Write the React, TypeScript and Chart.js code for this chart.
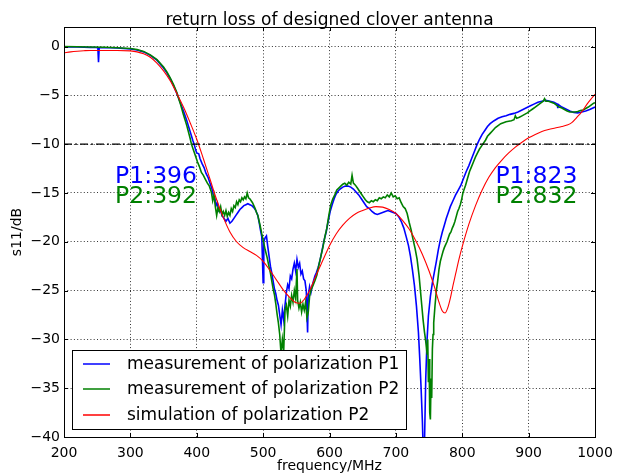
import React, { useEffect, useRef } from 'react';
import { Chart, registerables } from 'chart.js';

Chart.register(...registerables);

const TITLE = 'return loss of designed clover antenna';
const X_LABEL = 'frequency/MHz';
const Y_LABEL = 's11/dB';
const X_TICKS = [200, 300, 400, 500, 600, 700, 800, 900, 1000];
const Y_TICKS = [0, -5, -10, -15, -20, -25, -30, -35, -40];
const X_MIN = 200;
const X_MAX = 1000;
const Y_MIN = -40;
const Y_MAX = 2;
const REF_LEVEL = -10;

const SERIES_LABELS = [
  'measurement of polarization P1',
  'measurement of polarization P2',
  'simulation of polarization P2',
];
const SERIES_COLORS = ['#0000ff', '#008000', '#ff0000'];

// [frequency MHz, s11 dB]
const P1_MEASURED: [number, number][] = [
  [200, -0.05], [210, -0.05], [220, -0.05], [230, -0.08], [240, -0.1], [248, -0.1], [251, -0.12], [252, -1.6], [253, -0.12],
  [260, -0.12], [270, -0.12], [280, -0.15], [290, -0.2], [300, -0.25], [310, -0.35], [320, -0.55], [330, -0.9], [340, -1.4],
  [350, -2.2], [355, -2.7], [360, -3.3], [365, -4.0], [370, -4.8], [375, -5.7], [380, -6.6], [385, -7.6], [390, -8.7],
  [394, -9.6], [396, -10.0], [398, -10.5], [400, -10.9], [403, -11.0], [405, -11.5], [408, -12.0], [411, -12.4], [414, -13.0],
  [417, -13.4], [420, -14.0], [423, -14.6], [425, -15.3], [427, -15.4], [429, -16.3], [431, -16.0], [433, -16.8], [435, -16.6],
  [438, -17.3], [441, -17.6], [444, -17.9], [447, -17.6], [450, -18.1], [453, -17.9], [456, -17.6], [459, -17.3], [462, -17.0],
  [465, -16.7], [468, -16.5], [471, -16.3], [474, -16.2], [477, -16.1], [480, -16.2], [483, -16.3], [486, -16.5], [489, -16.8],
  [492, -17.3], [494, -18.0], [496, -18.8], [498, -19.5], [500, -24.2], [501, -20.0], [503, -19.6], [505, -19.4], [507, -20.5],
  [509, -21.5], [511, -22.5], [513, -23.2], [515, -24.0], [517, -24.8], [519, -25.3], [521, -26.0], [523, -26.5], [525, -27.5],
  [527, -28.5], [529, -27.0], [531, -28.0], [533, -26.5], [535, -25.2], [537, -24.4], [539, -24.8], [541, -23.5], [543, -23.8],
  [545, -22.8], [547, -22.2], [549, -23.0], [551, -21.8], [553, -22.6], [555, -22.2], [557, -23.3], [559, -23.0], [561, -23.8],
  [563, -24.0], [565, -25.0], [567, -29.3], [568, -25.5], [570, -24.6], [572, -25.2], [574, -24.5], [576, -24.0], [578, -23.5],
  [580, -23.2], [583, -22.6], [586, -21.8], [589, -20.8], [592, -19.8], [595, -19.0], [598, -17.9], [601, -16.9], [604, -16.2],
  [607, -15.6], [610, -15.1], [613, -14.8], [616, -14.6], [620, -14.4], [624, -14.3], [628, -14.3], [632, -14.4], [636, -14.6],
  [640, -14.9], [644, -15.2], [648, -15.6], [652, -16.0], [656, -16.4], [660, -16.6], [664, -16.9], [668, -17.1], [672, -17.2],
  [676, -17.1], [680, -17.0], [684, -16.9], [688, -16.8], [692, -16.9], [696, -17.0], [700, -17.1], [704, -17.4], [708, -17.9],
  [712, -18.6], [716, -19.6], [719, -20.4], [722, -21.5], [725, -22.9], [728, -24.5], [731, -26.6], [734, -29.3], [736, -32.0],
  [738, -35.0], [740, -38.5], [741, -41.0], [743, -41.0], [745, -34.0], [747, -30.0], [749, -27.6], [752, -25.6], [755, -24.2],
  [758, -23.1], [761, -22.0], [764, -20.8], [767, -19.8], [770, -19.0], [773, -18.3], [776, -17.6], [779, -17.0], [782, -16.4],
  [786, -15.8], [790, -15.2], [794, -14.7], [798, -14.2], [802, -13.5], [806, -12.8], [810, -12.2], [814, -11.5], [818, -10.8],
  [822, -10.1], [826, -9.5], [830, -9.0], [834, -8.6], [838, -8.2], [842, -7.9], [848, -7.6], [854, -7.35], [860, -7.2],
  [866, -7.1], [872, -6.95], [878, -6.85], [884, -6.7], [890, -6.5], [896, -6.3], [902, -6.1], [908, -5.9], [914, -5.7],
  [920, -5.6], [926, -5.5], [932, -5.6], [938, -5.7], [943, -5.9], [944, -6.3], [945, -5.95], [950, -6.2], [956, -6.4],
  [962, -6.6], [968, -6.75], [974, -6.8], [980, -6.7], [986, -6.6], [992, -6.45], [1000, -6.2],
];

const P2_MEASURED: [number, number][] = [
  [200, 0.0], [220, -0.02], [240, -0.05], [260, -0.08], [280, -0.12], [300, -0.2], [310, -0.3], [320, -0.5], [330, -0.85],
  [340, -1.35], [350, -2.1], [355, -2.6], [360, -3.2], [365, -3.9], [370, -4.7], [375, -5.8], [380, -7.0], [385, -8.1],
  [390, -9.4], [392, -10.0], [395, -10.6], [398, -11.2], [401, -11.8], [404, -12.3], [407, -12.9], [410, -13.2], [413, -13.6],
  [416, -14.0], [419, -14.3], [422, -14.9], [424, -15.8], [426, -15.2], [428, -16.4], [430, -17.3], [432, -16.5], [434, -16.9],
  [436, -16.4], [438, -17.2], [440, -16.9], [442, -17.3], [444, -16.8], [446, -17.4], [448, -17.0], [450, -17.3], [452, -16.6],
  [454, -16.9], [456, -16.3], [458, -16.5], [460, -15.9], [462, -16.2], [464, -15.7], [466, -15.9], [468, -15.5], [470, -15.7],
  [472, -15.4], [474, -15.6], [476, -15.0], [478, -15.5], [480, -15.6], [482, -15.8], [484, -16.0], [486, -16.3], [488, -16.6],
  [490, -17.0], [492, -17.3], [494, -17.9], [496, -18.5], [498, -19.2], [500, -19.8], [503, -20.8], [506, -21.6], [509, -22.6],
  [511, -23.2], [513, -24.0], [515, -24.8], [517, -25.4], [519, -26.3], [521, -27.4], [523, -28.3], [525, -29.5], [527, -31.5],
  [529, -30.0], [531, -31.2], [533, -27.0], [535, -26.5], [537, -27.6], [539, -26.0], [541, -26.6], [543, -25.5], [545, -26.2],
  [547, -25.0], [549, -25.8], [551, -22.8], [552, -26.0], [554, -26.8], [556, -26.2], [558, -27.2], [560, -26.4], [562, -27.0],
  [564, -26.2], [566, -27.8], [568, -27.2], [570, -25.6], [572, -25.0], [575, -24.5], [578, -24.0], [581, -23.4], [584, -22.4],
  [587, -21.5], [590, -20.6], [593, -19.5], [596, -18.6], [599, -17.3], [602, -16.2], [605, -15.6], [608, -15.2], [611, -14.7],
  [614, -14.5], [617, -14.3], [620, -14.1], [623, -14.0], [626, -14.2], [629, -13.9], [632, -14.1], [634, -13.2], [636, -14.0],
  [639, -14.2], [642, -14.5], [645, -14.8], [648, -15.1], [651, -15.4], [654, -15.7], [657, -15.9], [660, -16.0], [663, -15.8],
  [666, -15.9], [669, -15.7], [672, -15.8], [675, -15.5], [678, -15.6], [681, -15.4], [684, -15.5], [687, -15.2], [690, -15.4],
  [693, -15.0], [696, -15.4], [699, -15.3], [702, -15.6], [705, -15.5], [708, -16.0], [711, -16.4], [714, -16.6], [717, -17.1],
  [720, -18.0], [723, -18.8], [726, -19.8], [729, -20.7], [732, -21.8], [735, -23.5], [737, -25.0], [739, -26.5], [741, -28.0],
  [743, -29.2], [745, -30.2], [747, -31.5], [748, -30.0], [749, -34.4], [750, -32.0], [751, -37.5], [752, -38.2], [753, -34.0],
  [754, -36.0], [755, -31.0], [756, -29.5], [757, -28.3], [759, -26.5], [761, -25.0], [763, -24.0], [765, -22.8], [767, -22.0],
  [769, -21.5], [771, -21.0], [773, -20.6], [775, -20.3], [777, -20.0], [779, -19.6], [781, -19.2], [783, -19.0], [785, -18.6],
  [787, -18.3], [789, -17.9], [791, -17.4], [793, -16.9], [795, -16.6], [797, -16.2], [799, -15.7], [801, -15.0], [803, -14.6],
  [805, -14.2], [808, -13.5], [811, -12.8], [814, -12.3], [817, -11.8], [820, -11.3], [823, -10.9], [826, -10.5], [829, -10.2],
  [832, -9.9], [835, -9.6], [838, -9.2], [842, -8.9], [846, -8.6], [850, -8.3], [854, -8.1], [858, -7.9], [862, -7.8],
  [866, -7.7], [870, -7.65], [874, -7.6], [878, -7.5], [880, -7.1], [882, -7.35], [886, -7.25], [890, -7.1], [894, -6.95],
  [898, -6.8], [902, -6.6], [906, -6.4], [910, -6.2], [914, -6.0], [918, -5.8], [922, -5.6], [924, -5.35], [926, -5.6],
  [930, -5.6], [934, -5.7], [938, -5.8], [942, -6.0], [946, -6.2], [950, -6.3], [954, -6.45], [958, -6.6], [962, -6.7],
  [966, -6.7], [970, -6.7], [974, -6.65], [978, -6.55], [982, -6.5], [986, -6.35], [990, -6.2], [994, -6.0], [998, -5.8],
  [1000, -5.75],
];

const P2_SIMULATED: [number, number][] = [
  [200, -0.65], [210, -0.55], [220, -0.48], [230, -0.43], [240, -0.4], [260, -0.4], [280, -0.4], [300, -0.45], [310, -0.55],
  [320, -0.75], [330, -1.1], [340, -1.7], [350, -2.5], [360, -3.5], [370, -4.8], [380, -6.2], [390, -7.8], [400, -9.5],
  [410, -11.5], [420, -13.6], [430, -15.7], [440, -17.5], [450, -19.0], [460, -20.0], [470, -20.6], [480, -21.0], [490, -21.4],
  [500, -22.0], [510, -22.9], [520, -23.9], [530, -24.9], [540, -25.7], [548, -26.2], [555, -26.3], [562, -25.9], [570, -25.0],
  [580, -23.4], [590, -21.9], [600, -20.4], [610, -19.2], [620, -18.3], [630, -17.6], [640, -17.1], [650, -16.8], [660, -16.55],
  [670, -16.4], [680, -16.45], [690, -16.7], [700, -17.1], [710, -17.8], [720, -18.7], [730, -19.9], [740, -21.3], [750, -23.0],
  [758, -24.6], [765, -26.2], [770, -27.1], [774, -27.3], [778, -26.8], [782, -25.8], [786, -24.5], [790, -23.3], [795, -21.8],
  [800, -20.5], [810, -18.2], [820, -16.3], [830, -14.7], [840, -13.4], [850, -12.4], [860, -11.6], [870, -10.9], [880, -10.3],
  [890, -9.8], [900, -9.35], [910, -9.0], [920, -8.7], [930, -8.5], [940, -8.35], [950, -8.2], [958, -8.05], [965, -7.8],
  [972, -7.3], [980, -6.7], [988, -5.9], [995, -5.3], [1000, -4.9],
];

const NOTE_TEXTS = ['P1:396', 'P2:392', 'P1:823', 'P2:832'];
const NOTE_X = [277, 277, 850, 850];
const NOTE_Y = [-14, -16, -14, -16];
const NOTE_COLORS = ['#0000ff', '#008000', '#0000ff', '#008000'];

const FONT = '"DejaVu Sans", sans-serif';

const toPoints = (arr: [number, number][]) => arr.map(([x, y]) => ({ x, y }));
const fmtTick = (v: number) => (v < 0 ? '\u2212' + Math.abs(v) : String(v));

const decorPlugin = {
  id: 'decor',
  afterDatasetsDraw(chart: any) {
    const { ctx, chartArea } = chart;
    const { left, right, top, bottom } = chartArea;
    const xs = chart.scales.x;
    const ys = chart.scales.y;
    ctx.save();
    ctx.strokeStyle = '#000';
    ctx.lineWidth = 1;
    // inward tick marks
    ctx.beginPath();
    X_TICKS.forEach((v) => {
      const px = Math.round(xs.getPixelForValue(v)) + 0.5;
      ctx.moveTo(px, bottom);
      ctx.lineTo(px, bottom - 4);
      ctx.moveTo(px, top);
      ctx.lineTo(px, top + 4);
    });
    Y_TICKS.forEach((v) => {
      const py = Math.round(ys.getPixelForValue(v)) + 0.5;
      ctx.moveTo(left, py);
      ctx.lineTo(left + 4, py);
      ctx.moveTo(right, py);
      ctx.lineTo(right - 4, py);
    });
    ctx.stroke();
    // frame
    ctx.strokeRect(Math.round(left) + 0.5, Math.round(top) + 0.5, Math.round(right - left), Math.round(bottom - top));

    // annotations
    ctx.font = '23.5px ' + FONT;
    ctx.textAlign = 'left';
    ctx.textBaseline = 'alphabetic';
    NOTE_TEXTS.forEach((t, i) => {
      ctx.fillStyle = NOTE_COLORS[i];
      ctx.fillText(t, xs.getPixelForValue(NOTE_X[i]), ys.getPixelForValue(NOTE_Y[i]));
    });

    // legend
    const lx = 72.5, ly = 350.5, lw = 334, lh = 79;
    ctx.fillStyle = '#fff';
    ctx.fillRect(lx, ly, lw, lh);
    ctx.strokeStyle = '#000';
    ctx.strokeRect(lx, ly, lw, lh);
    ctx.font = '17px ' + FONT;
    ctx.textBaseline = 'middle';
    const ds = chart.data.datasets.filter((d: any) => d.inLegend);
    ds.sort((a: any, b: any) => a.legendIndex - b.legendIndex);
    ds.forEach((d: any, i: number) => {
      const rowY = 363.5 + i * 25.5;
      ctx.strokeStyle = d.borderColor;
      ctx.lineWidth = 1.5;
      ctx.beginPath();
      ctx.moveTo(83, Math.round(rowY));
      ctx.lineTo(110, Math.round(rowY));
      ctx.stroke();
      ctx.fillStyle = '#000';
      ctx.fillText(d.label, 127, rowY + 1);
    });

    // title
    ctx.fillStyle = '#000';
    ctx.font = '17px ' + FONT;
    ctx.textAlign = 'center';
    ctx.textBaseline = 'alphabetic';
    ctx.fillText(TITLE, (left + right) / 2, 24.5);
    ctx.restore();
  },
};

export default function App() {
  const ref = useRef<HTMLCanvasElement | null>(null);
  useEffect(() => {
    document.body.style.margin = '0';
    const canvas = ref.current;
    if (!canvas) return;
    const chart = new Chart(canvas, {
      type: 'line',
      data: {
        datasets: [
          {
            label: 'ref',
            data: [{ x: X_MIN, y: REF_LEVEL }, { x: X_MAX, y: REF_LEVEL }],
            borderColor: '#000',
            borderWidth: 1.2,
            borderDash: [8, 3, 2, 3],
            pointRadius: 0,
            inLegend: false,
          } as any,
          {
            label: SERIES_LABELS[2],
            data: toPoints(P2_SIMULATED),
            borderColor: SERIES_COLORS[2],
            borderWidth: 1.1,
            pointRadius: 0,
            cubicInterpolationMode: 'monotone',
            inLegend: true,
            legendIndex: 2,
          } as any,
          {
            label: SERIES_LABELS[1],
            data: toPoints(P2_MEASURED),
            borderColor: SERIES_COLORS[1],
            borderWidth: 1.6,
            pointRadius: 0,
            inLegend: true,
            legendIndex: 1,
          } as any,
          {
            label: SERIES_LABELS[0],
            data: toPoints(P1_MEASURED),
            borderColor: SERIES_COLORS[0],
            borderWidth: 1.6,
            pointRadius: 0,
            inLegend: true,
            legendIndex: 0,
          } as any,
        ],
      },
      options: {
        animation: false,
        responsive: false,
        devicePixelRatio: 1,
        events: [],
        layout: { padding: { top: 27, right: 30, left: 0, bottom: 0 } },
        plugins: {
          legend: { display: false },
          tooltip: { enabled: false },
          title: { display: false },
        },
        scales: {
          x: {
            type: 'linear',
            min: X_MIN,
            max: X_MAX,
            afterBuildTicks: (s: any) => {
              s.ticks = X_TICKS.map((v) => ({ value: v }));
            },
            afterFit: (s: any) => {
              s.height = 38;
            },
            grid: { color: '#000', lineWidth: 0.8, drawTicks: false },
            border: { display: false, dash: [1, 2.3] },
            ticks: {
              color: '#000',
              font: { family: FONT, size: 14 },
              padding: 8,
              maxRotation: 0,
              autoSkip: false,
              callback: (v: any) => fmtTick(Number(v)),
            },
            title: {
              display: true,
              text: X_LABEL,
              color: '#000',
              font: { family: FONT, size: 14 },
              padding: { top: 0, bottom: 0 },
            },
          },
          y: {
            type: 'linear',
            min: Y_MIN,
            max: Y_MAX,
            afterBuildTicks: (s: any) => {
              s.ticks = Y_TICKS.map((v) => ({ value: v }));
            },
            afterFit: (s: any) => {
              s.width = 64;
            },
            grid: { color: '#000', lineWidth: 0.8, drawTicks: false },
            border: { display: false, dash: [1, 2.3] },
            ticks: {
              color: '#000',
              font: { family: FONT, size: 14 },
              padding: 4,
              autoSkip: false,
              callback: (v: any) => fmtTick(Number(v)),
            },
            title: {
              display: true,
              text: Y_LABEL,
              color: '#000',
              font: { family: FONT, size: 14 },
              padding: { top: 9, bottom: 0 },
            },
          },
        },
      },
      plugins: [decorPlugin],
    } as any);
    return () => chart.destroy();
  }, []);
  return (
    <div style={{ width: 625, height: 475, background: '#fff' }}>
      <canvas ref={ref} width={625} height={475} style={{ display: 'block' }} />
    </div>
  );
}
